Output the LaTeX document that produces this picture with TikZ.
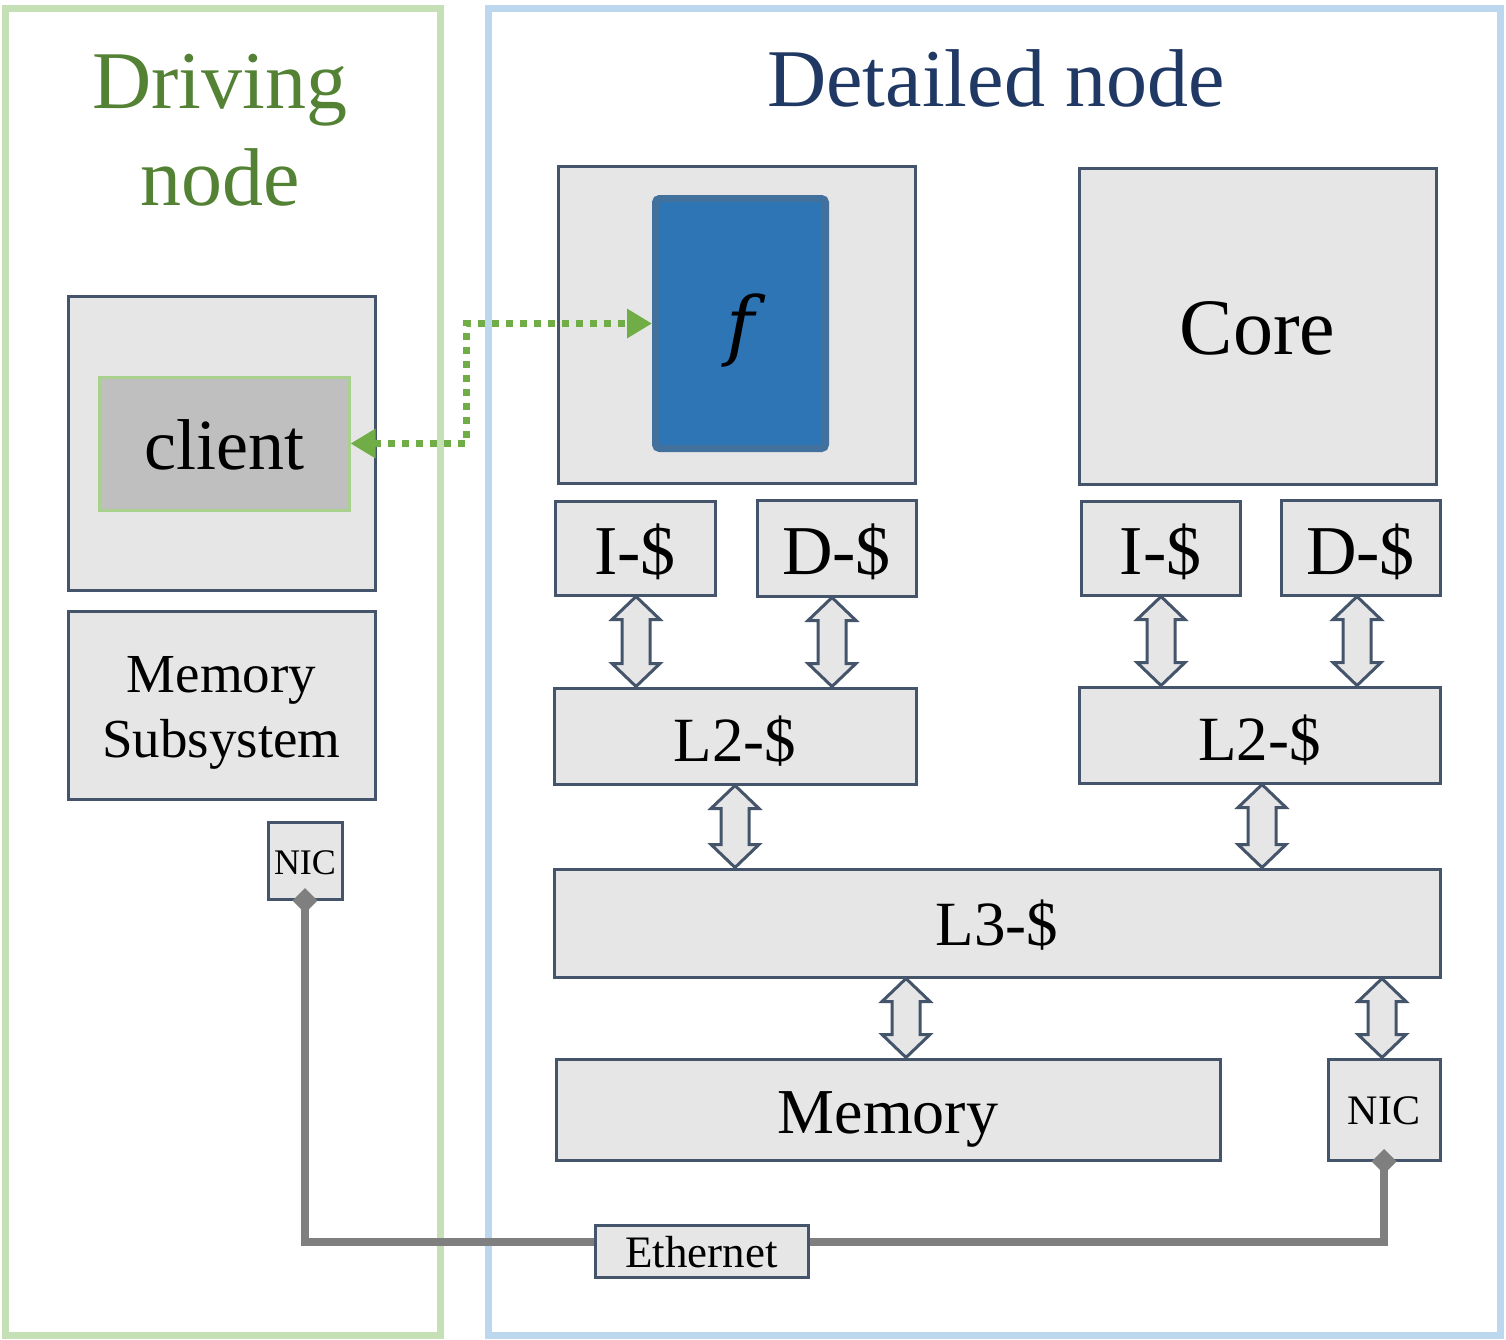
\documentclass[tikz,border=0pt]{standalone}
\usepackage{fontspec}
\setmainfont{Liberation Serif}
\newfontfamily\ffont{DejaVu Serif}
\usetikzlibrary{arrows.meta,calc}
\definecolor{boxfill}{HTML}{E7E6E6}
\definecolor{boxline}{HTML}{44546A}
\definecolor{gframe}{HTML}{C5E0B4}
\definecolor{bframe}{HTML}{BDD7EE}
\definecolor{tgreen}{HTML}{548235}
\definecolor{tnavy}{HTML}{203864}
\definecolor{clientfill}{HTML}{BFBFBF}
\definecolor{clientline}{HTML}{A9D18E}
\definecolor{ffill}{HTML}{2E75B6}
\definecolor{fline}{HTML}{41719C}
\definecolor{garrowc}{HTML}{70AD47}
\definecolor{ethc}{HTML}{7F7F7F}
\newcommand\blockarrow[3]{%
  \draw[blk] let \p1=($(#2.south)+(#1,0)$), \p2=(#3.north) in
    (\x1,\y1) -- (\x1+24pt,\y1-23pt) -- (\x1+14pt,\y1-23pt) -- (\x1+14pt,\y2+23pt)
    -- (\x1+24pt,\y2+23pt) -- (\x1,\y2) -- (\x1-24pt,\y2+23pt) -- (\x1-14pt,\y2+23pt)
    -- (\x1-14pt,\y1-23pt) -- (\x1-24pt,\y1-23pt) -- cycle;}
\begin{document}
\begin{tikzpicture}[x=1pt,y=-1pt,
  frame/.style={line width=7pt, inner sep=0pt},
  box/.style={draw=boxline, fill=boxfill, line width=3pt, inner sep=0pt},
  captext/.style={text height=#1, text depth=0pt},
  blk/.style={draw=boxline, fill=boxfill, line width=3pt, line join=miter},
  title/.style={font=\fontsize{82}{90}\selectfont, anchor=base},
  garrow/.style={draw=garrowc, line width=7pt, dash pattern=on 7pt off 7pt,
    {Triangle[length=25pt,width=28pt]}-{Triangle[length=25pt,width=28pt]}},
  eth/.style={draw=ethc, line width=8pt,
    {Diamond[length=25pt,width=25pt]}-{Diamond[length=25pt,width=25pt]},
    shorten <=-12.5pt, shorten >=-12.5pt}
  ]
\useasboundingbox (0,0) rectangle (1506,1339);
% frames
\node[frame, draw=gframe, minimum width=435pt, minimum height=1327pt] (gfr) at (222.5,671.5) {};
\node[frame, draw=bframe, minimum width=1012pt, minimum height=1327pt] (bfr) at (994,671.5) {};
% titles
\node[title, text=tgreen] (drv1) at (220,108) {Driving};
\node[title, text=tgreen] (drv2) at (220,205) {node};
\node[title, text=tnavy] (det) at (996,106) {Detailed node};
% driving node
\node[box, minimum width=307pt, minimum height=294pt] (cout) at (221.5,443) {};
\node[draw=clientline, fill=clientfill, line width=3pt, inner sep=0pt, captext=51pt,
  minimum width=250pt, minimum height=133pt, font=\fontsize{72}{80}\selectfont] (client) at (224,443.5) {client};
\node[box, minimum width=307pt, minimum height=188pt, align=center,
  font=\fontsize{55}{65}\selectfont] (msub) at (221.5,705) {\rule{0pt}{52pt}Memory\\Subsystem};
\node[box, captext=27pt, minimum width=74pt, minimum height=77pt, font=\fontsize{36}{40}\selectfont] (nicl) at (305,860.5) {NIC};
% detailed node
\node[box, minimum width=357pt, minimum height=317pt] (fout) at (736.5,324.5) {};
\node[draw=fline, fill=ffill, line width=7pt, rounded corners=4pt, inner sep=0pt,
  captext=56pt, minimum width=170pt, minimum height=250pt,
  font=\fontsize{76}{80}\ffont\itshape] (fbox) at (740.5,323.5) {f};
\node[box, captext=57pt, minimum width=357pt, minimum height=316pt, font=\fontsize{80}{90}\selectfont] (core) at (1257.5,326) {Core};
\node[box, captext=53pt, minimum width=160pt, minimum height=94pt, font=\fontsize{70}{80}\selectfont] (il) at (635,548) {I-\$};
\node[box, captext=53pt, minimum width=159pt, minimum height=96pt, font=\fontsize{70}{80}\selectfont] (dl) at (836.5,548) {D-\$};
\node[box, captext=53pt, minimum width=159pt, minimum height=94pt, font=\fontsize{70}{80}\selectfont] (ir) at (1160.5,548) {I-\$};
\node[box, captext=53pt, minimum width=159pt, minimum height=95pt, font=\fontsize{70}{80}\selectfont] (dr) at (1360.5,547.5) {D-\$};
\node[box, captext=51pt, minimum width=362pt, minimum height=96pt, font=\fontsize{63}{70}\selectfont] (l2l) at (735,736) {L2-\$};
\node[box, captext=51pt, minimum width=361pt, minimum height=96pt, font=\fontsize{63}{70}\selectfont] (l2r) at (1259.5,735) {L2-\$};
\node[box, captext=44pt, minimum width=886pt, minimum height=108pt, font=\fontsize{63}{70}\selectfont] (l3) at (997,923) {L3-\$};
\node[box, captext=47pt, minimum width=664pt, minimum height=101pt, font=\fontsize{64}{70}\selectfont] (mem) at (888,1109.5) {Memory};
\node[box, captext=30pt, minimum width=112pt, minimum height=101pt, font=\fontsize{42}{48}\selectfont] (nicr) at (1384,1109.5) {NIC};
% block arrows
\blockarrow{1}{il}{l2l}
\blockarrow{-4.5}{dl}{l2l}
\blockarrow{0}{l2l}{l3}
\blockarrow{0.5}{ir}{l2r}
\blockarrow{-3.5}{dr}{l2r}
\blockarrow{2.5}{l2r}{l3}
\blockarrow{-91}{l3}{mem}
\blockarrow{385}{l3}{nicr}
% connectors
\draw[garrow] (client.east) -- ++(116,0) |- (fbox.west);
\coordinate (ethy) at (0,1242);
\draw[eth] (nicl.south) |- (ethy -| nicr.south) -- (nicr.south);
\node[box, captext=33pt, minimum width=213pt, minimum height=52pt, font=\fontsize{45}{50}\selectfont] (ethn) at (701.5,1251) {Ethernet};
\end{tikzpicture}
\end{document}
